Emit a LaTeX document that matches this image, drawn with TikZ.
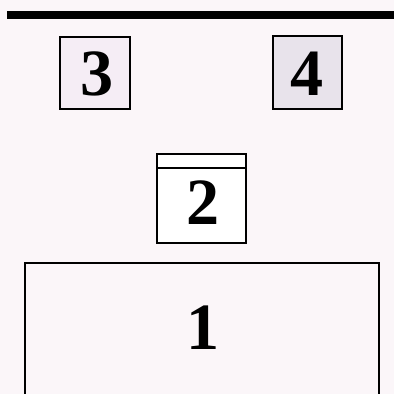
\documentclass[tikz,border=0pt]{standalone}
\usepackage{fontspec}
\setmainfont{Liberation Serif}
\usetikzlibrary{positioning}
\definecolor{paper}{rgb}{0.985,0.965,0.975}
\definecolor{tintA}{rgb}{0.96,0.93,0.96}
\definecolor{tintB}{rgb}{0.91,0.89,0.92}
\tikzset{
  frame/.style={line width=1.8pt,draw=black},
  digit/.style={inner sep=0pt,font=\fontsize{47}{50}\selectfont\bfseries}
}
\begin{document}
\begin{tikzpicture}[x=0.025cm,y=-0.025cm]
\useasboundingbox (0,0) rectangle (394,394);
\fill[paper] (0,0) rectangle (394,394);
% top bar
\fill[black] (7,11) rectangle (394,19.5);
% small boxes
\draw[frame,fill=tintA] (60,37) rectangle (130,109);
\node[digit] (lab3) at (97,74) {3};
\draw[frame,fill=tintB] (273,36) rectangle (342,109);
\node[digit] (lab4) at (307,74) {4};
% box 2 with strip on top
\draw[frame,fill=white] (157,154) rectangle (246,243);
\draw[frame] (157,168) -- (246,168);
\node[digit] (lab2) at (203,203) {2};
% box 1, open at the bottom
\draw[frame] (25,394) -- (25,263) -- (379,263) -- (379,394);
\node[digit] (lab1) at (203,328) {1};
\end{tikzpicture}
\end{document}
